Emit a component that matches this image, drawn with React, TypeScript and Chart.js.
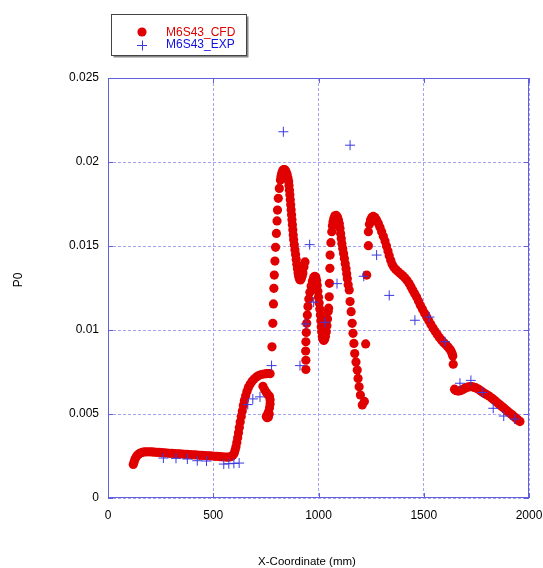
import { useEffect, useRef } from "react";
import { Chart, registerables } from "chart.js";

Chart.register(...registerables);

const X_TICK_LABELS = ["0", "500", "1000", "1500", "2000"];
const Y_TICK_LABELS = ["0", "0.005", "0.01", "0.015", "0.02", "0.025"];
const SERIES_NAMES = ["M6S43_CFD", "M6S43_EXP"];
const X_TITLE = "X-Coordinate (mm)";
const Y_TITLE = "P0";

// CFD series (x in mm, P0)
const CFD_X = [
  120, 124, 128, 133, 139, 146, 154, 163, 173, 184, 196, 208, 220, 232, 244, 256, 268, 280, 292, 304,
  316, 328, 340, 352, 364, 376, 388, 400, 412, 424, 436, 448, 460, 472, 484, 496, 508, 520, 532, 544,
  556, 568, 578, 587, 594, 600,
  604, 608, 612, 616, 620, 624, 628, 633, 638, 643, 648, 654, 660, 667, 675, 684, 694, 705, 716, 728,
  740, 752, 762, 770,
  736, 744, 752, 760, 767, 770, 770, 767, 762, 757, 752, 756, 762, 766,
  779, 783, 786, 788, 790, 793, 796, 800, 803, 805, 809, 814, 819, 822, 825, 828, 831, 834, 837, 840,
  842, 846, 851, 855,
  858, 860, 862, 864, 866, 868, 870, 872, 874, 876, 878, 880, 882, 885, 888, 891, 894, 897, 900, 903,
  906, 910, 914, 918, 922, 926, 931, 936,
  940, 940, 939, 940, 942, 944, 947, 950, 954, 959, 965, 971, 977, 982, 987, 991, 994, 997, 1000, 1003,
  1006, 1009, 1011, 1013, 1015, 1018, 1021, 1025, 1029, 1033, 1037, 1040, 1043, 1046,
  1048, 1051, 1052, 1054, 1055, 1059, 1063, 1066, 1069, 1073, 1078, 1084, 1090, 1095, 1099, 1102, 1105,
  1108, 1111, 1115, 1119, 1123, 1127, 1131, 1134, 1137, 1141,
  1146, 1150, 1155, 1160, 1164, 1168, 1172, 1178, 1184, 1188, 1193, 1199, 1208, 1218,
  1224, 1229, 1237, 1237, 1242, 1247, 1253, 1260, 1268, 1276, 1284, 1292, 1300, 1308, 1316, 1323, 1330,
  1336, 1343, 1350, 1358, 1367, 1377, 1388, 1399, 1410, 1420, 1430, 1439, 1448, 1457, 1466, 1475, 1484,
  1494, 1504, 1514, 1524, 1534, 1544, 1554, 1564, 1574, 1584, 1594, 1604, 1613, 1620, 1626, 1631, 1635,
  1638, 1640,
  1646, 1652, 1660, 1668, 1676, 1684, 1692, 1700, 1708, 1716, 1724, 1732, 1740, 1748, 1756, 1764, 1772,
  1780, 1788, 1796, 1804, 1812, 1823, 1831, 1839, 1847, 1855, 1863, 1871, 1879, 1887, 1895, 1903, 1911,
  1919, 1927, 1935, 1943, 1950, 1957,
];
const CFD_Y = [
  0.0020, 0.00215, 0.0023, 0.00243, 0.00254, 0.00262, 0.00268, 0.00272, 0.00274, 0.00275, 0.00275, 0.00274,
  0.00273, 0.00272, 0.00271, 0.0027, 0.00269, 0.00268, 0.00266, 0.00266, 0.00265, 0.00263, 0.00263, 0.00262,
  0.0026, 0.0026, 0.00259, 0.00257, 0.00257, 0.00256, 0.00254, 0.00254, 0.00253, 0.00251, 0.00251, 0.0025,
  0.00248, 0.00248, 0.00246, 0.00245, 0.00244, 0.00243, 0.00244, 0.00248, 0.00256, 0.00268,
  0.00285, 0.00305, 0.0033, 0.00358, 0.00388, 0.0042, 0.00452, 0.00485, 0.00518, 0.0055, 0.0058, 0.00608,
  0.00634, 0.00657, 0.00677, 0.00694, 0.00708, 0.0072, 0.00729, 0.00735, 0.00738, 0.0074, 0.00741, 0.0074,
  0.00665, 0.00645, 0.00628, 0.00615, 0.00605, 0.00585, 0.0056, 0.00535, 0.00512, 0.00495, 0.00485, 0.00478,
  0.00482, 0.005,
  0.009, 0.0104, 0.01155, 0.01248, 0.01327, 0.0141, 0.01492, 0.01575, 0.01649, 0.01714, 0.01784, 0.01843,
  0.01893, 0.01915, 0.0193, 0.01942, 0.0195, 0.01954, 0.01955, 0.01953, 0.0195, 0.01942, 0.01925, 0.01905,
  0.01885, 0.0186, 0.01832, 0.01805, 0.01776, 0.01746, 0.01716, 0.01686, 0.01656, 0.01626, 0.01596, 0.01566,
  0.01537, 0.01508, 0.01478, 0.01449, 0.0142, 0.01392, 0.01365, 0.0134, 0.01318, 0.01302, 0.01298, 0.01305,
  0.0132, 0.0134, 0.01375, 0.01405,
  0.00765, 0.0082, 0.00875, 0.0093, 0.00985, 0.0104, 0.0109, 0.0114, 0.01185, 0.01225, 0.01262, 0.01292,
  0.01312, 0.0132, 0.01315, 0.01295, 0.01265, 0.0123, 0.01195, 0.0116, 0.01125, 0.0109, 0.01055, 0.0102,
  0.0099, 0.00962, 0.00945, 0.00938, 0.00945, 0.00962, 0.0099, 0.01025, 0.01065, 0.0111,
  0.0113, 0.01198, 0.01278, 0.01367, 0.01446, 0.0152, 0.01585, 0.0162, 0.01645, 0.01665, 0.0168, 0.01682,
  0.01672, 0.01655, 0.01632, 0.01605, 0.01575, 0.01545, 0.01515, 0.01485, 0.01455, 0.01425, 0.01395, 0.01365,
  0.01335, 0.01305, 0.0127,
  0.01238, 0.01169, 0.01109, 0.0104, 0.0098, 0.0092, 0.0086, 0.0081, 0.00762, 0.00712, 0.00662, 0.00613,
  0.00554, 0.00575,
  0.00917, 0.01327, 0.01502, 0.01585, 0.0163, 0.01655, 0.0167, 0.01676, 0.0167, 0.01655, 0.01635, 0.01612,
  0.01585, 0.01558, 0.0153, 0.015, 0.0147, 0.01442, 0.01415, 0.01392, 0.01374, 0.0136, 0.01348, 0.01336,
  0.01324, 0.01311, 0.01296, 0.01278, 0.01258, 0.01237, 0.01216, 0.01196, 0.01172, 0.01148, 0.01124, 0.011,
  0.01078, 0.01055, 0.01033, 0.01012, 0.00992, 0.00973, 0.00956, 0.0094, 0.00926, 0.00914, 0.00902, 0.00892,
  0.00882, 0.0087, 0.00858, 0.00845, 0.00796,
  0.00648, 0.0064, 0.00637, 0.00637, 0.0064, 0.00645, 0.00651, 0.00656, 0.0066, 0.00662, 0.00663, 0.00662,
  0.00659, 0.00655, 0.0065, 0.00644, 0.00637, 0.0063, 0.00623, 0.00617, 0.00611, 0.00605, 0.00595, 0.00587,
  0.00579, 0.0057, 0.00561, 0.00553, 0.00545, 0.00537, 0.00528, 0.0052, 0.00512, 0.00503, 0.00495, 0.00487,
  0.00478, 0.0047, 0.00462, 0.00455,
];

// Experimental series
const EXP_X = [
  263, 323, 377, 424, 468, 550, 574, 598, 623, 664, 688, 722, 777, 833, 912, 940, 958, 977, 1030, 1088,
  1150, 1215, 1276, 1336, 1458, 1527, 1601, 1672, 1724, 1778, 1830, 1880, 1932,
];
const EXP_Y = [
  0.00238, 0.00236, 0.00232, 0.00222, 0.0022, 0.00202, 0.00204, 0.00206, 0.00208, 0.00556, 0.0059, 0.00602,
  0.00788, 0.0218, 0.00788, 0.01036, 0.01508, 0.01166, 0.01046, 0.01276, 0.021, 0.0132, 0.01446, 0.01206,
  0.01058, 0.01077, 0.0093, 0.00683, 0.007, 0.00628, 0.00534, 0.00488, 0.0047,
];

const FONT = '"Liberation Sans", Arial, sans-serif';
const RED = "#e00000";
const BLUE = "#3a3ae0";

const framePlugin = {
  id: "frame",
  beforeDatasetsDraw(chart: any) {
    const { ctx, chartArea } = chart;
    const { left, right, top, bottom } = chartArea;
    ctx.save();
    ctx.strokeStyle = "#5f5fe0";
    ctx.lineWidth = 1;
    ctx.strokeRect(left + 0.5, top + 0.5, right - left - 1, bottom - top - 1);
    const xs = chart.scales.x;
    const ys = chart.scales.y;
    ctx.beginPath();
    xs.ticks.forEach((t: any) => {
      const px = Math.round(xs.getPixelForValue(t.value)) + 0.5;
      ctx.moveTo(px, bottom);
      ctx.lineTo(px, bottom - 5);
      ctx.moveTo(px, top);
      ctx.lineTo(px, top + 5);
    });
    ys.ticks.forEach((t: any) => {
      const py = Math.round(ys.getPixelForValue(t.value)) + 0.5;
      ctx.moveTo(left, py);
      ctx.lineTo(left + 5, py);
      ctx.moveTo(right, py);
      ctx.lineTo(right - 5, py);
    });
    ctx.stroke();
    ctx.restore();
  },
};

const titlesPlugin = {
  id: "axisTitles",
  afterDraw(chart: any) {
    const { ctx } = chart;
    ctx.save();
    ctx.fillStyle = "#000";
    ctx.textAlign = "center";
    ctx.textBaseline = "middle";
    ctx.font = `11.5px ${FONT}`;
    ctx.fillText(X_TITLE, 307, 562);
    ctx.translate(19, 280);
    ctx.rotate(-Math.PI / 2);
    ctx.font = `12px ${FONT}`;
    ctx.fillText(Y_TITLE, 0, 0);
    ctx.restore();
  },
};

const legendPlugin = {
  id: "boxLegend",
  afterDraw(chart: any) {
    const { ctx } = chart;
    ctx.save();
    const bx = 111.5, by = 14.5, bw = 135, bh = 41;
    ctx.fillStyle = "#888";
    ctx.fillRect(bx + 2, by + 2, bw, bh);
    ctx.fillStyle = "#fff";
    ctx.fillRect(bx, by, bw, bh);
    ctx.strokeStyle = "#444";
    ctx.lineWidth = 1;
    ctx.strokeRect(bx, by, bw, bh);
    ctx.fillStyle = RED;
    ctx.beginPath();
    ctx.arc(142, 32, 4.6, 0, Math.PI * 2);
    ctx.fill();
    ctx.strokeStyle = BLUE;
    ctx.beginPath();
    ctx.moveTo(137, 45.5);
    ctx.lineTo(147, 45.5);
    ctx.moveTo(142.5, 40.5);
    ctx.lineTo(142.5, 50.5);
    ctx.stroke();
    ctx.font = `12px ${FONT}`;
    ctx.textBaseline = "middle";
    ctx.textAlign = "left";
    ctx.fillStyle = RED;
    ctx.fillText(SERIES_NAMES[0], 166, 33);
    ctx.fillStyle = "#1010e0";
    ctx.fillText(SERIES_NAMES[1], 166, 45);
    ctx.restore();
  },
};

export default function App() {
  const ref = useRef<HTMLCanvasElement>(null);
  useEffect(() => {
    const cfd = CFD_X.map((x, i) => ({ x, y: CFD_Y[i] }));
    const exp = EXP_X.map((x, i) => ({ x, y: EXP_Y[i] }));
    const chart = new Chart(ref.current as HTMLCanvasElement, {
      type: "scatter",
      data: {
        datasets: [
          {
            label: SERIES_NAMES[1],
            data: exp,
            pointStyle: "cross",
            pointRadius: 5,
            borderColor: BLUE,
            borderWidth: 1,
            showLine: false,
          },
          {
            label: SERIES_NAMES[0],
            data: cfd,
            pointStyle: "circle",
            pointRadius: 4.6,
            backgroundColor: RED,
            borderColor: RED,
            borderWidth: 0,
            showLine: false,
          },
        ],
      },
      options: {
        animation: false,
        responsive: false,
        devicePixelRatio: 1,
        layout: { padding: { left: 0, right: 14, top: 78, bottom: 0 } },
        plugins: {
          legend: { display: false },
          tooltip: { enabled: false },
        },
        scales: {
          x: {
            type: "linear",
            min: 0,
            max: 2000,
            afterFit: (s: any) => {
              s.height = 70;
              s.paddingLeft = 0;
              s.paddingRight = 0;
            },
            ticks: {
              stepSize: 500,
              padding: 10,
              color: "#000",
              font: { family: FONT, size: 12 },
              callback: (v: any) => X_TICK_LABELS[Math.round(Number(v) / 500)] ?? "",
            },
            grid: { color: "#a4a4f2", drawTicks: false, lineWidth: 1 },
            border: { display: false, dash: [3, 2] },
            title: { display: false },
          },
          y: {
            type: "linear",
            min: 0,
            max: 0.025,
            afterFit: (s: any) => {
              s.width = 108;
              s.paddingTop = 0;
              s.paddingBottom = 0;
            },
            ticks: {
              stepSize: 0.005,
              padding: 9,
              color: "#000",
              font: { family: FONT, size: 12 },
              callback: (v: any) => Y_TICK_LABELS[Math.round(Number(v) / 0.005)] ?? "",
            },
            grid: { color: "#a4a4f2", drawTicks: false, lineWidth: 1 },
            border: { display: false, dash: [3, 2] },
            title: { display: false },
          },
        },
      },
      plugins: [framePlugin, legendPlugin, titlesPlugin],
    });
    return () => chart.destroy();
  }, []);
  return (
    <div style={{ position: "fixed", left: 0, top: 0, width: 543, height: 568, background: "#fff" }}>
      <canvas ref={ref} width={543} height={568} style={{ width: 543, height: 568, display: "block" }} />
    </div>
  );
}
